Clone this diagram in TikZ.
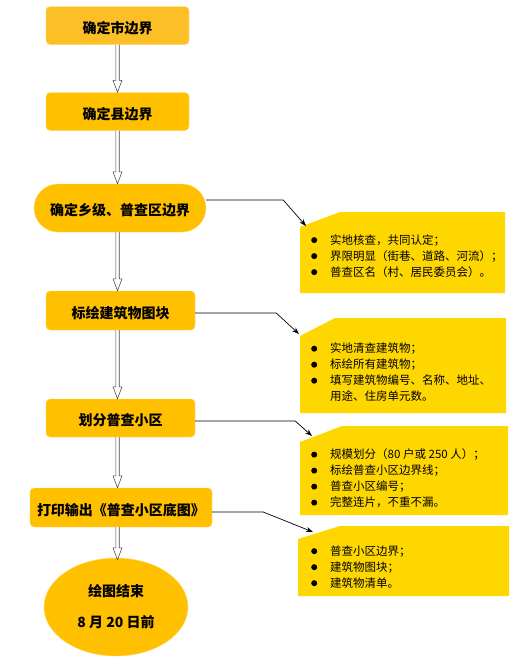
\documentclass[tikz,border=0pt]{standalone}
\usepackage{fontspec}
\newfontfamily\cjk{Noto Sans CJK SC}
\usetikzlibrary{calc,arrows.meta,shapes.geometric}
\definecolor{boxor}{HTML}{FFC000}
\definecolor{boxorA}{HTML}{FCBF26}
\definecolor{callgold}{HTML}{FFD700}
\newcommand\blt{\makebox[19pt][l]{\tikz[baseline=-4.2pt]\fill (3pt,0) circle (3pt);}}
\newcommand\cont{\hspace*{19pt}}
\tikzset{
  stepbox/.style={fill=boxor, draw=boxor!55!white, line width=0.4pt, rounded corners=4pt,
    minimum width=143pt, minimum height=38pt, inner sep=0pt, text height=16pt, text depth=1pt,
    font=\cjk\bfseries\fontsize{14}{16}\selectfont},
  endbox/.style={ellipse, fill=boxor, draw=boxor!55!white, line width=0.4pt,
    minimum width=144pt, minimum height=98pt, inner sep=0pt, align=center,
    font=\cjk\bfseries\fontsize{14}{16}\selectfont},
  hollowarrow/.style={draw=black!70, fill=white, line width=0.6pt,
    to path={let \p1=(\tikztostart), \p2=(\tikztotarget) in
      (\x1-1.7pt,\y1) -- (\x1-1.7pt,\y2+12pt) -- (\x1-4.5pt,\y2+12pt) -- (\x1,\y2)
      -- (\x1+4.5pt,\y2+12pt) -- (\x1+1.7pt,\y2+12pt) -- (\x1+1.7pt,\y1)}},
  callshape/.style={fill=callgold},
  calltext/.style={anchor=west, inner sep=0pt, align=left,
    font=\cjk\fontsize{11.5}{16}\selectfont},
  conn/.style={draw=black, line width=0.7pt, -{Stealth[length=7pt,width=5pt]}},
}
\begin{document}
\begin{tikzpicture}[x=1pt,y=-1pt]
\useasboundingbox (0,0) rectangle (521,662);
\coordinate (ax) at (117.5,0);

% main flow
\node[stepbox, fill=boxorA] (b1) at (117.5,25.5) {确定市边界};
\node[stepbox] (b2) at (117.5,111.5) {确定县边界};
\node[stepbox, minimum width=172pt, minimum height=48pt, rounded corners=24pt] (b3) at (120,208) {确定乡级、普查区边界};
\node[stepbox, minimum width=149pt, minimum height=39pt] (b4) at (120.5,310.5) {标绘建筑物图块};
\node[stepbox, minimum width=149pt] (b5) at (120.5,418) {划分普查小区};
\node[stepbox, minimum width=182pt, minimum height=39pt] (b6) at (121,507.5) {打印输出《普查小区底图》};
\node[endbox] (b7) at (116,607) {绘图结束\\[15pt]8 月 20 日前};

\draw[hollowarrow] (b1.south -| ax) to (b2.north -| ax);
\draw[hollowarrow] (b2.south -| ax) to (b3.north -| ax);
\draw[hollowarrow] (b3.south -| ax) to (b4.north -| ax);
\draw[hollowarrow] (b4.south -| ax) to (b5.north -| ax);
\draw[hollowarrow] (b5.south -| ax) to (b6.north -| ax);
\draw[hollowarrow] (b6.south -| ax) to ([yshift=-2pt]b7.north -| ax);

% callout shapes
\fill[callshape] (300,227) -- (340,212) -- (505,212) -- (505,293) -- (300,293) -- cycle;
\fill[callshape] (300,336) -- (335,318) -- (506,318) -- (506,413) -- (300,413) -- cycle;
\fill[callshape] (300,442) -- (342,426) -- (508,426) -- (508,515) -- (300,515) -- cycle;
\fill[callshape] (298,539) -- (340,526) -- (509,526) -- (509,596) -- (298,596) -- cycle;

\node[calltext] (c1) at (311,256) {\blt 实地核查，共同认定；\\ \blt 界限明显（街巷、道路、河流）；\\ \blt 普查区名（村、居民委员会）。};
\node[calltext] (c2) at (311,372.5) {\blt 实地清查建筑物；\\ \blt 标绘所有建筑物；\\ \blt 填写建筑物编号、名称、地址、\\ \cont 用途、住房单元数。};
\node[calltext] (c3) at (311,478.5) {\blt 规模划分（80 户或 250 人）；\\ \blt 标绘普查小区边界线；\\ \blt 普查小区编号；\\ \blt 完整连片，不重不漏。};
\node[calltext] (c4) at (311,567) {\blt 普查小区边界；\\ \blt 建筑物图块；\\ \blt 建筑物清单。};

% connectors
\coordinate (t1) at (306,226);
\coordinate (t2) at (299,334);
\coordinate (t3) at (312,436);
\coordinate (t4) at (313,532);
\draw[conn] ([yshift=8pt]b3.east) -- ++(77,0) -- (t1);
\draw[conn] ([yshift=-2.5pt]b4.east) -- ++(81,0) -- (t2);
\draw[conn] ([yshift=-3pt]b5.east) -- ++(100,0) -- (t3);
\draw[conn] ([yshift=-4.5pt]b6.east) -- ++(51,0) -- (t4);
\end{tikzpicture}
\end{document}
